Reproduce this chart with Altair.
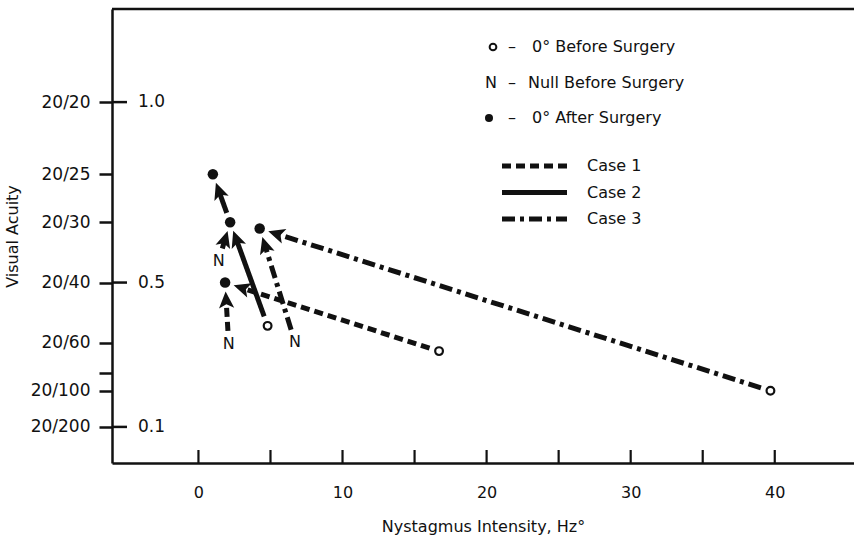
import math
import altair as alt
import pandas as pd

# ---------------- data ----------------
point_id = ["c1_open", "c1_null", "c1_after",
            "c2_open", "c2_null", "c2_after", "c2_after2",
            "c3_open", "c3_null", "c3_after"]
point_case = ["Case 1", "Case 1", "Case 1",
              "Case 2", "Case 2", "Case 2", "Case 2",
              "Case 3", "Case 3", "Case 3"]
point_kind = ["open", "null", "after",
              "open", "null", "after", "after",
              "open", "null", "after"]
point_hz = [16.7, 2.1, 1.85, 4.8, 1.4, 2.2, 1.0, 39.7, 6.7, 4.25]
point_acuity = [0.31, 0.33, 0.50, 0.38, 0.56, 0.667, 0.80, 0.20, 0.335, 0.65]

arrow_from = ["c1_open", "c1_null", "c2_open", "c2_null", "c2_after", "c3_open", "c3_null"]
arrow_to = ["c1_after", "c1_after", "c2_after", "c2_after", "c2_after2", "c3_after", "c3_after"]

cases = ["Case 1", "Case 2", "Case 3"]
case_dashes = [[9, 5], [1, 0], [13, 5, 4, 5]]

snellen_den = [20, 25, 30, 40, 60, 80, 100, 200]
snellen_text = ["20/20", "20/25", "20/30", "20/40", "20/60", "", "20/100", "20/200"]
decimal_ticks = [1.0, 0.5, 0.1]
decimal_text = ["1.0", "0.5", "0.1"]
x_label_values = [0, 10, 20, 30, 40]
x_tick_values = [0, 5, 10, 15, 20, 25, 30, 35, 40]

legend_marker_text = ["0\u00b0 Before Surgery", "Null Before Surgery", "0\u00b0 After Surgery"]

# ---------------- layout constants ----------------
W, H = 742, 454
XMIN, XMAX = -6.0, 45.5
YMIN, YMAX = 0.0, 1.258
FONT = "DejaVu Sans"
INK = "#111111"
R_HEAD = 9.5          # arrowhead half-size in px
TIP_GAP = 9.0
START_GAP = {"open": 10.0, "null": 13.0, "after": 10.0}

def to_px(x, y):
    return ((x - XMIN) * W / (XMAX - XMIN), (YMAX - y) * H / (YMAX - YMIN))

def to_data(px, py):
    return (XMIN + px * (XMAX - XMIN) / W, YMAX - py * (YMAX - YMIN) / H)

pts = pd.DataFrame({"id": point_id, "case": point_case, "kind": point_kind,
                    "hz": point_hz, "acuity": point_acuity})
lookup = pts.set_index("id")

seg_rows, head_rows = [], []
for f, t in zip(arrow_from, arrow_to):
    a, b = lookup.loc[f], lookup.loc[t]
    x0, y0 = to_px(a.hz, a.acuity)
    x1, y1 = to_px(b.hz, b.acuity)
    dx, dy = x1 - x0, y1 - y0
    L = math.hypot(dx, dy)
    ux, uy = dx / L, dy / L
    sg = START_GAP[a.kind]
    sx, sy = x0 + ux * sg, y0 + uy * sg
    cx, cy = x1 - ux * (TIP_GAP + R_HEAD), y1 - uy * (TIP_GAP + R_HEAD)
    sdx, sdy = to_data(sx, sy)
    cdx, cdy = to_data(cx, cy)
    seg_rows.append({"x": sdx, "y": sdy, "x2": cdx, "y2": cdy, "case": a.case})
    ang = math.degrees(math.atan2(ux, -uy)) % 360
    head_rows.append({"x": cdx, "y": cdy, "angle": ang})

segs = pd.DataFrame(seg_rows)
heads = pd.DataFrame(head_rows)

xs = alt.Scale(domain=[XMIN, XMAX], nice=False, zero=False)
ys = alt.Scale(domain=[YMIN, YMAX], nice=False, zero=False)

snellen_vals = [20.0 / d for d in snellen_den]
expr = "''"
for v, s in reversed(list(zip(snellen_vals, snellen_text))):
    expr = f"abs(datum.value - {v:.6f}) < 0.002 ? '{s}' : ({expr})"

x_axis = alt.Axis(values=x_label_values, ticks=False, grid=False, domainWidth=2.5,
                  domainColor=INK, labelFont=FONT, labelFontSize=16, labelColor=INK,
                  labelPadding=21, title="Nystagmus Intensity, Hz\u00b0", titleFont=FONT,
                  titleFontSize=16, titleFontWeight="normal", titleColor=INK, titlePadding=18,
                  labelFlush=False)
y_axis = alt.Axis(values=snellen_vals, tickSize=13, tickWidth=2.5, tickColor=INK,
                  grid=False, domainWidth=2.5, domainColor=INK, labelExpr=expr,
                  labelFont=FONT, labelFontSize=17, labelColor=INK, labelPadding=9,
                  title="Visual Acuity", titleFont=FONT, titleFontSize=16,
                  titleFontWeight="normal", titleColor=INK, titlePadding=10)

base_pts = alt.Chart(pts)

axes_layer = alt.Chart(pts).mark_point(opacity=0).encode(
    x=alt.X("hz:Q", scale=xs, axis=x_axis),
    y=alt.Y("acuity:Q", scale=ys, axis=y_axis),
)

segments = alt.Chart(segs).mark_rule(strokeWidth=5, color=INK).encode(
    x=alt.X("x:Q", scale=xs), y=alt.Y("y:Q", scale=ys),
    x2="x2:Q", y2="y2:Q",
    strokeDash=alt.StrokeDash("case:N", scale=alt.Scale(domain=cases, range=case_dashes), legend=None),
)

arrow_path = "M0,-1 L0.8,0.75 L0,0.35 L-0.8,0.75 Z"
arrowheads = alt.Chart(heads).mark_point(shape=arrow_path, filled=True, color=INK,
                                         size=(2 * R_HEAD) ** 2, opacity=1).encode(
    x=alt.X("x:Q", scale=xs), y=alt.Y("y:Q", scale=ys), angle=alt.Angle("angle:Q", scale=None),
)

after_pts = base_pts.transform_filter(alt.datum.kind == "after").mark_point(
    shape="circle", filled=True, color=INK, size=110, opacity=1).encode(
    x=alt.X("hz:Q", scale=xs), y=alt.Y("acuity:Q", scale=ys))
open_pts = base_pts.transform_filter(alt.datum.kind == "open").mark_point(
    shape="circle", filled=True, fill="white", stroke=INK, strokeWidth=2.2, size=60, opacity=1).encode(
    x=alt.X("hz:Q", scale=xs), y=alt.Y("acuity:Q", scale=ys))
null_pts = base_pts.transform_filter(alt.datum.kind == "null").mark_text(
    text="N", font=FONT, fontSize=16, color=INK, baseline="middle", align="center").encode(
    x=alt.X("hz:Q", scale=xs), y=alt.Y("acuity:Q", scale=ys))

# inward x ticks
xt = alt.Chart(pd.DataFrame({"v": x_tick_values})).mark_rule(strokeWidth=2.2, color=INK).encode(
    x=alt.X("v:Q", scale=xs), y=alt.value(H), y2=alt.value(H - 13))

# inward extension of the decimal ticks and decimal labels
dec_df = pd.DataFrame({"v": decimal_ticks, "t": decimal_text})
dec_ticks = alt.Chart(dec_df).mark_rule(strokeWidth=2.5, color=INK).encode(
    y=alt.Y("v:Q", scale=ys), x=alt.value(0), x2=alt.value(15))
dec_labels = alt.Chart(dec_df).mark_text(font=FONT, fontSize=17, color=INK, align="left",
                                         baseline="middle").encode(
    y=alt.Y("v:Q", scale=ys), x=alt.value(26), text="t:N")

one = alt.Data(values=[{"a": 1}])
top_border = alt.Chart(one).mark_rule(strokeWidth=2.5, color=INK).encode(
    x=alt.value(0), x2=alt.value(W), y=alt.value(0))

def ltext(x, y, s, align="left", size=16):
    return alt.Chart(one).mark_text(font=FONT, fontSize=size, color=INK, align=align,
                                    baseline="middle").encode(
        x=alt.value(x), y=alt.value(y), text=alt.value(s))

legend = [
    alt.Chart(one).mark_point(shape="circle", filled=True, fill="white", stroke=INK,
                              strokeWidth=2, size=45, opacity=1).encode(x=alt.value(381), y=alt.value(38)),
    ltext(400, 38, "\u2013", "center"), ltext(420, 38, legend_marker_text[0]),
    ltext(379, 74, "N", "center"),
    ltext(400, 74, "\u2013", "center"), ltext(416, 74, legend_marker_text[1]),
    alt.Chart(one).mark_point(shape="circle", filled=True, color=INK, size=65,
                              opacity=1).encode(x=alt.value(377), y=alt.value(109)),
    ltext(400, 109, "\u2013", "center"), ltext(420, 109, legend_marker_text[2]),
]
for i, (c, d) in enumerate(zip(cases, case_dashes)):
    yy = 157 + i * 26.5
    legend.append(alt.Chart(one).mark_rule(strokeWidth=5, color=INK, strokeDash=d).encode(
        x=alt.value(390), x2=alt.value(455), y=alt.value(yy)))
    legend.append(ltext(475, yy, c))

chart = alt.layer(
    axes_layer, xt, dec_ticks, dec_labels, top_border,
    segments, arrowheads, after_pts, open_pts, null_pts, *legend
).properties(
    width=W, height=H,
    padding={"left": 112, "top": 9, "right": 0, "bottom": 74},
    autosize=alt.AutoSizeParams(type="none"),
    background="white",
).configure_view(stroke=None)

chart.save("out.html", embed_options={"renderer": "svg", "actions": False})
